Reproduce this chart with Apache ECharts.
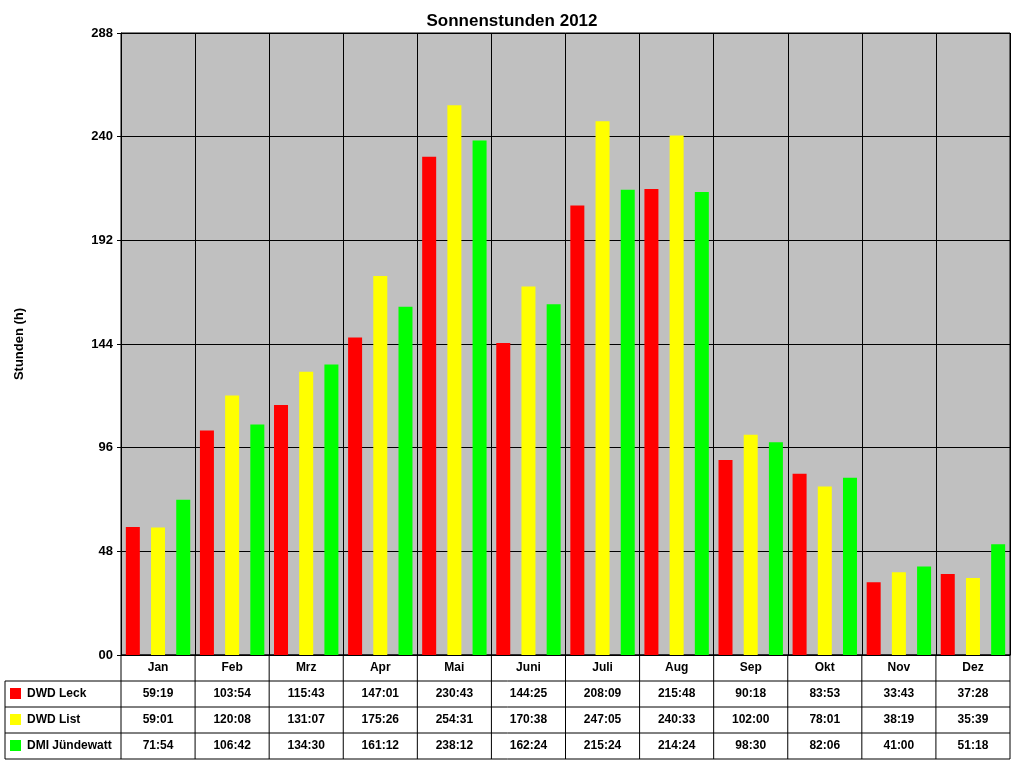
<!DOCTYPE html>
<html><head><meta charset="utf-8">
<script src="https://cdn.jsdelivr.net/npm/echarts@6/dist/echarts.min.js"></script>
<style>html,body{margin:0;padding:0;background:#fff}#c{width:1024px;height:768px}</style>
</head><body><div id="c"></div>
<script>
const categories=["Jan","Feb","Mrz","Apr","Mai","Juni","Juli","Aug","Sep","Okt","Nov","Dez"];
const seriesNames=["DWD Leck","DWD List","DMI Jündewatt"];
const leck=["59:19","103:54","115:43","147:01","230:43","144:25","208:09","215:48","90:18","83:53","33:43","37:28"];
const list=["59:01","120:08","131:07","175:26","254:31","170:38","247:05","240:33","102:00","78:01","38:19","35:39"];
const juende=["71:54","106:42","134:30","161:12","238:12","162:24","215:24","214:24","98:30","82:06","41:00","51:18"];
const colors=["#FF0000","#FFFF00","#00FF00"];
const yTicks=[0,48,96,144,192,240,288];

const toH=s=>{const p=s.split(":");return +p[0]+ +p[1]/60;};
const raw=[leck,list,juende];
const L=121,R=1010,T=33,B=655,rowH=26,tableBottom=B+rowH*4;
const fs="'Liberation Sans', Arial, sans-serif";
const g=[];
const line=(x1,y1,x2,y2)=>g.push({type:'line',shape:{x1,y1,x2,y2},style:{stroke:'#000',lineWidth:1}});
const cw=(R-L)/12;
// table borders
line(5,B+rowH,5,tableBottom);
line(L,B,L,tableBottom);
for(let i=1;i<=12;i++)line(L+i*cw,B,L+i*cw,tableBottom);
line(L,B,R,B);
for(let r=1;r<=4;r++)line(5,B+r*rowH,R,B+r*rowH);
seriesNames.forEach((n,i)=>{
  const cy=B+rowH*(i+1)+rowH/2;
  g.push({type:'rect',shape:{x:10,y:cy-6,width:11,height:11},style:{fill:colors[i]}});
  g.push({type:'text',x:27,y:cy,style:{text:n,font:'bold 12px '+fs,fill:'#000',textVerticalAlign:'middle'}});
});
const chart=echarts.init(document.getElementById('c'));
chart.setOption({
  animation:false,
  title:{text:'Sonnenstunden 2012',left:'center',top:8,textStyle:{fontFamily:fs,fontWeight:'bold',fontSize:17,color:'#000'}},
  grid:{left:L,right:1024-R,top:T,bottom:768-B,backgroundColor:'#C0C0C0',show:true,borderColor:'#000',borderWidth:1},
  xAxis:{type:'category',data:categories,axisTick:{show:false},axisLine:{lineStyle:{color:'#000'}},
    splitLine:{show:true,lineStyle:{color:'#000'}},
    axisLabel:{margin:0,interval:0,lineHeight:rowH,fontFamily:fs,fontWeight:'bold',fontSize:12,color:'#000',
      formatter:(v,idx)=>[v,leck[idx],list[idx],juende[idx]].join('\n')}},
  yAxis:{type:'value',min:0,max:288,interval:48,name:'Stunden (h)',nameLocation:'middle',nameGap:95,
    nameTextStyle:{fontFamily:fs,fontWeight:'bold',fontSize:13,color:'#000'},
    axisLine:{show:true,lineStyle:{color:'#000'}},axisTick:{show:true,length:4,lineStyle:{color:'#000'}},
    splitLine:{lineStyle:{color:'#000'}},
    axisLabel:{fontFamily:fs,fontWeight:'bold',fontSize:13,color:'#000',formatter:v=>String(v).padStart(2,'0')}},
  series:raw.map((arr,i)=>({type:'bar',name:seriesNames[i],data:arr.map(toH),barWidth:14,barGap:'80%',itemStyle:{color:colors[i]}})),
  graphic:g
});
</script></body></html>
